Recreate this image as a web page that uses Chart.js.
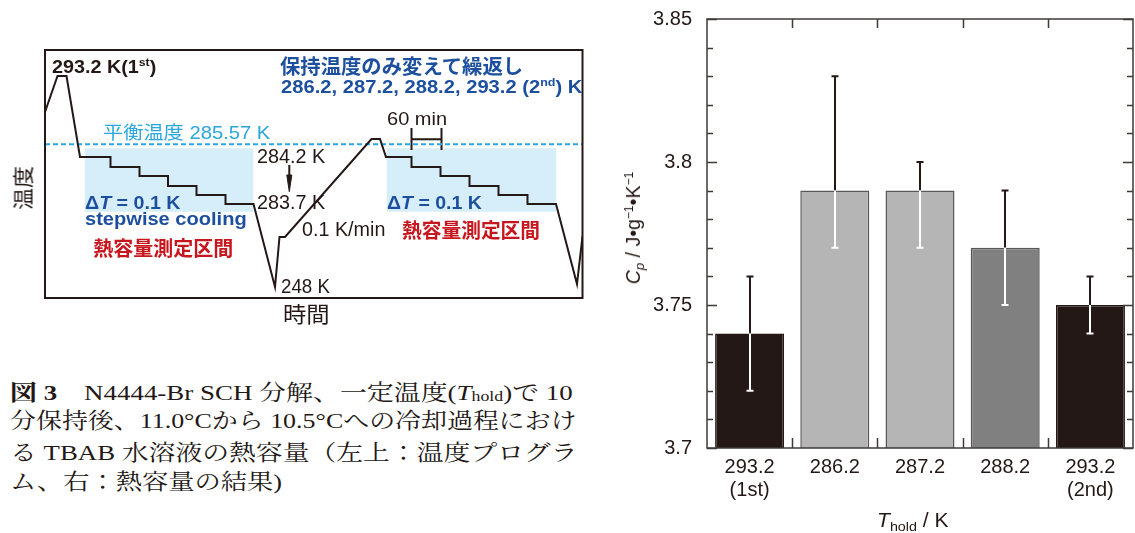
<!DOCTYPE html>
<html>
<head>
<meta charset="utf-8">
<script src="https://cdn.jsdelivr.net/npm/chart.js@4/dist/chart.umd.min.js"></script>
<style>
  body { margin: 0; background: #fff; }
  #page { position: relative; width: 1135px; height: 533px; overflow: hidden; background: #fff;
          font-family: "Liberation Sans", Arial, "Noto Sans CJK JP", sans-serif; color: #231815; }
  #progChart { position: absolute; left: 0; top: 0; }
  #barChart { position: absolute; left: 640px; top: 0; }
  .t { position: absolute; white-space: nowrap; line-height: 1; transform-origin: 0 0; }
  .t sup { font-size: 0.62em; line-height: 0; vertical-align: 0.55em; }
  .t sub { font-size: 0.68em; line-height: 0; vertical-align: -0.28em; }
  .cap { font-family: "Liberation Serif", "Noto Serif CJK JP", "Noto Sans CJK JP", serif; }
  .cap .sb { font-size: 0.66em; vertical-align: -0.08em; }
</style>
</head>
<body>
<div id="page">
  <canvas id="progChart" width="600" height="330"></canvas>
  <canvas id="barChart" width="495" height="533"></canvas>
</div>
<script>
// ---- right panel: heat capacity at each hold temperature ----
const holdLabels = [['293.2', '(1st)'], ['286.2'], ['287.2'], ['288.2'], ['293.2', '(2nd)']];
const cpValues = [3.74, 3.79, 3.79, 3.77, 3.75];
const cpHigh = [3.76, 3.83, 3.80, 3.79, 3.76];
const cpLow = [3.72, 3.77, 3.77, 3.75, 3.74];

// ---- left panel: temperature program (time in min, temperature in arbitrary units) ----
const progTime = [0, 25, 43, 70, 131, 131, 189, 189, 246, 246, 303, 303, 361, 361, 417,
                  460, 469, 480, 653, 670, 682, 733, 733, 791, 791, 849, 849, 907, 907,
                  965, 965, 1022, 1064, 1075];
const progTemp = [186, 222, 222, 141, 141, 131, 131, 122, 122, 112, 112, 103, 103, 94, 94,
                  11, 61, 61, 159, 159, 141, 141, 131, 131, 122, 122, 112, 112, 103,
                  103, 94, 94, 14, 62];
const eqTemp = 153.7;
const shadeStart = [79, 683];
const shadeEnd = [417, 1023];
const shadeTop = 149.7;
const shadeBottom = 86.3;
const bracketTime = [733, 793];
const bracketTop = 170;
const bracketBottom = 148;
const bracketMid = 158.7;
const arrowTime = 488.6;
const arrowTemp = [133, 123, 106.3];

const INK = '#231815';
const BLUE = '#1d4f9f';
const RED = '#c8161e';

// program chart
const frame = {
  id: 'frame',
  afterDraw(chart) {
    const a = chart.chartArea, c = chart.ctx;
    c.save();
    c.strokeStyle = INK;
    c.lineWidth = 2;
    c.strokeRect(a.left, a.top, a.right - a.left, a.bottom - a.top);
    c.restore();
  }
};

const progDatasets = [
  {
    data: progTime.map((t, i) => ({ x: t, y: progTemp[i] })),
    borderColor: INK, borderWidth: 2, pointRadius: 0, tension: 0, fill: false
  },
  {
    data: [{ x: 0, y: eqTemp }, { x: 1075, y: eqTemp }],
    borderColor: '#2ea7e0', borderWidth: 2, borderDash: [5, 3], pointRadius: 0, fill: false
  },
  {
    data: [
      { x: bracketTime[0], y: bracketTop }, { x: bracketTime[0], y: bracketBottom }, { x: bracketTime[0], y: null },
      { x: bracketTime[0], y: bracketMid }, { x: bracketTime[1], y: bracketMid }, { x: bracketTime[1], y: null },
      { x: bracketTime[1], y: bracketTop }, { x: bracketTime[1], y: bracketBottom }
    ],
    borderColor: INK, borderWidth: 2, pointRadius: 0, spanGaps: false, fill: false
  },
  {
    data: [{ x: arrowTime, y: arrowTemp[0] }, { x: arrowTime, y: arrowTemp[1] }],
    borderColor: INK, borderWidth: 2, pointRadius: 0, fill: false
  },
  {
    data: [{ x: arrowTime - 5, y: arrowTemp[1] }, { x: arrowTime, y: arrowTemp[2] },
           { x: arrowTime + 5, y: arrowTemp[1] }, { x: arrowTime - 5, y: arrowTemp[1] }],
    borderColor: INK, borderWidth: 1, backgroundColor: INK, pointRadius: 0, fill: 'shape'
  }
];
shadeStart.forEach((s, i) => {
  progDatasets.push({
    data: [{ x: s, y: shadeTop }, { x: shadeEnd[i], y: shadeTop }],
    borderWidth: 0, borderColor: 'rgba(0,0,0,0)', backgroundColor: '#d6eef9',
    pointRadius: 0, fill: { value: shadeBottom }
  });
});

new Chart(document.getElementById('progChart'), {
  type: 'line',
  data: { datasets: progDatasets },
  options: {
    responsive: false,
    animation: false,
    layout: { padding: { left: 45, top: 50, right: 17.5, bottom: 32 } },
    plugins: { legend: { display: false }, tooltip: { enabled: false } },
    scales: {
      x: { type: 'linear', min: 0, max: 1075, display: false },
      y: { min: 0, max: 248, display: false }
    }
  },
  plugins: [frame]
});

// bar chart
const barColors = [INK, '#b5b5b5', '#b5b5b5', '#808080', INK];
const barEdges = [INK, '#595757', '#595757', '#595757', INK];

const axisFrame = {
  id: 'axisFrame',
  afterDraw(chart) {
    const a = chart.chartArea, c = chart.ctx;
    const ys = chart.scales.y, xs = chart.scales.x;
    c.save();
    c.strokeStyle = '#3e3a39';
    c.lineWidth = 1.5;
    c.strokeRect(a.left, a.top, a.right - a.left, a.bottom - a.top);
    c.beginPath();
    ys.ticks.forEach(t => {
      const y = Math.round(ys.getPixelForValue(t.value)) + 0.5;
      const major = Math.round(t.value * 100) % 5 === 0;
      const len = major ? 10 : 6;
      c.moveTo(a.left, y); c.lineTo(a.left + len, y);
      c.moveTo(a.right, y); c.lineTo(a.right - len, y);
    });
    for (let i = 0; i < xs.ticks.length - 1; i++) {
      const x = Math.round((xs.getPixelForTick(i) + xs.getPixelForTick(i + 1)) / 2) + 0.5;
      c.moveTo(x, a.top); c.lineTo(x, a.top + 9);
      c.moveTo(x, a.bottom); c.lineTo(x, a.bottom - 10);
    }
    c.stroke();
    c.restore();
  }
};

const errorBars = {
  id: 'errorBars',
  afterDatasetsDraw(chart) {
    const c = chart.ctx, ys = chart.scales.y;
    const meta = chart.getDatasetMeta(0);
    c.save();
    c.lineWidth = 2;
    meta.data.forEach((bar, i) => {
      const x = Math.round(bar.x);
      const yHi = ys.getPixelForValue(cpHigh[i]);
      const yLo = ys.getPixelForValue(cpLow[i]);
      const yVal = ys.getPixelForValue(cpValues[i]);
      c.strokeStyle = INK;
      c.beginPath();
      c.moveTo(x, yHi); c.lineTo(x, yVal);
      c.moveTo(x - 3.5, yHi); c.lineTo(x + 3.5, yHi);
      c.stroke();
      c.strokeStyle = '#ffffff';
      c.beginPath();
      c.moveTo(x, yVal); c.lineTo(x, yLo);
      c.moveTo(x - 3.5, yLo); c.lineTo(x + 3.5, yLo);
      c.stroke();
    });
    c.restore();
  }
};

new Chart(document.getElementById('barChart'), {
  type: 'bar',
  data: {
    labels: holdLabels,
    datasets: [{
      data: cpValues,
      backgroundColor: barColors,
      borderColor: barEdges,
      borderWidth: 1.5,
      barPercentage: 0.81,
      categoryPercentage: 1
    }]
  },
  options: {
    responsive: false,
    animation: false,
    layout: { padding: { left: 0, top: 19, right: 2, bottom: 0 } },
    plugins: { legend: { display: false }, tooltip: { enabled: false } },
    scales: {
      x: {
        grid: { display: false, drawTicks: false },
        border: { display: false },
        ticks: {
          color: INK, padding: 8, maxRotation: 0, autoSkip: false,
          font: { family: '"Liberation Sans", Arial, sans-serif', size: 20, lineHeight: 1.15 }
        },
        afterFit(s) { s.height = 85; s.paddingLeft = 0; s.paddingRight = 0; }
      },
      y: {
        min: 3.7, max: 3.85,
        grid: { display: false, drawTicks: false },
        border: { display: false },
        ticks: {
          stepSize: 0.01, autoSkip: false, padding: 15, color: INK,
          font: { family: '"Liberation Sans", Arial, sans-serif', size: 20 },
          callback(v) {
            const k = Math.round(v * 100);
            return k % 5 === 0 ? String(k / 100) : '';
          }
        },
        afterFit(s) { s.width = 67; s.paddingTop = 0; s.paddingBottom = 0; }
      }
    }
  },
  plugins: [axisFrame, errorBars]
});

// ---- text: annotations, axis titles, caption ----
const notes = [
  { html: '293.2 K(1<sup>st</sup>)', x: 51.5, y: 66, w: 104, size: 19, bold: true },
  { html: '保持温度のみ変えて繰返し', x: 280, y: 67, w: 243, size: 20, bold: true, color: BLUE },
  { html: '286.2, 287.2, 288.2, 293.2 (2<sup>nd</sup>) K', x: 281, y: 86.5, w: 301, size: 18.5, bold: true, color: BLUE },
  { html: '平衡温度 285.57 K', x: 103.3, y: 132.5, w: 167, size: 18.5, color: '#2ba6de' },
  { html: '60 min', x: 386.7, y: 118.3, w: 60, size: 19 },
  { html: '284.2 K', x: 256.7, y: 157, w: 68, size: 19.5 },
  { html: '283.7 K', x: 256.7, y: 203, w: 68, size: 19.5 },
  { html: '0.1 K/min', x: 301.7, y: 229.7, w: 83, size: 19.5 },
  { html: '248 K', x: 280.7, y: 286.7, w: 49, size: 19.5 },
  { html: 'Δ<i>T</i> = 0.1 K', x: 85, y: 202.5, w: 95, size: 18, bold: true, color: BLUE },
  { html: 'Δ<i>T</i> = 0.1 K', x: 387.3, y: 202.5, w: 94.4, size: 18, bold: true, color: BLUE },
  { html: 'stepwise cooling', x: 85, y: 218.5, w: 161.7, size: 18, bold: true, color: BLUE },
  { html: '熱容量測定区間', x: 93.3, y: 249, w: 140, size: 20, bold: true, color: RED },
  { html: '熱容量測定区間', x: 401.7, y: 231, w: 138, size: 20, bold: true, color: RED },
  { html: '時間', x: 283.3, y: 315, w: 46.7, size: 22 },
  { html: '<i>T</i><sub>hold</sub> / K', x: 876.7, y: 520, w: 71.7, size: 20 },
  { html: '<b>図 3</b>&ensp;&ensp;N4444-Br SCH 分解、一定温度(<i>T</i><span class="sb">hold</span>)で 10', x: 10, y: 393, w: 563, size: 22, cls: 'cap' },
  { html: '分保持後、11.0°Cから 10.5°Cへの冷却過程におけ', x: 10, y: 421, w: 567, size: 22, cls: 'cap' },
  { html: 'る TBAB 水溶液の熱容量（左上：温度プログラ', x: 10, y: 452.5, w: 568, size: 22, cls: 'cap' },
  { html: 'ム、右：熱容量の結果)', x: 10, y: 482, w: 272, size: 22, cls: 'cap' }
];
const vnotes = [
  { html: '温度', cx: 22.5, cy: 187.5, w: 44, size: 21 },
  { html: '<i>C</i><sub><i>p</i></sub> / J•g<sup>−1</sup>•K<sup>−1</sup>', cx: 633, cy: 228, w: 112, size: 20 }
];

const page = document.getElementById('page');
notes.forEach(n => {
  const d = document.createElement('div');
  d.className = 't' + (n.cls ? ' ' + n.cls : '');
  d.innerHTML = n.html;
  d.style.left = n.x + 'px';
  d.style.top = n.y + 'px';
  d.style.fontSize = n.size + 'px';
  d.style.fontWeight = n.bold ? 'bold' : 'normal';
  d.style.color = n.color || INK;
  page.appendChild(d);
  const k = n.w / d.offsetWidth;
  d.style.transform = 'translateY(-50%) scaleX(' + k.toFixed(3) + ')';
});
vnotes.forEach(n => {
  const d = document.createElement('div');
  d.className = 't';
  d.innerHTML = n.html;
  d.style.left = n.cx + 'px';
  d.style.top = n.cy + 'px';
  d.style.fontSize = n.size + 'px';
  d.style.color = INK;
  d.style.transformOrigin = '50% 50%';
  page.appendChild(d);
  const k = n.w / d.offsetWidth;
  d.style.transform = 'translate(-50%, -50%) rotate(-90deg) scaleX(' + k.toFixed(3) + ')';
});
</script>
</body>
</html>
